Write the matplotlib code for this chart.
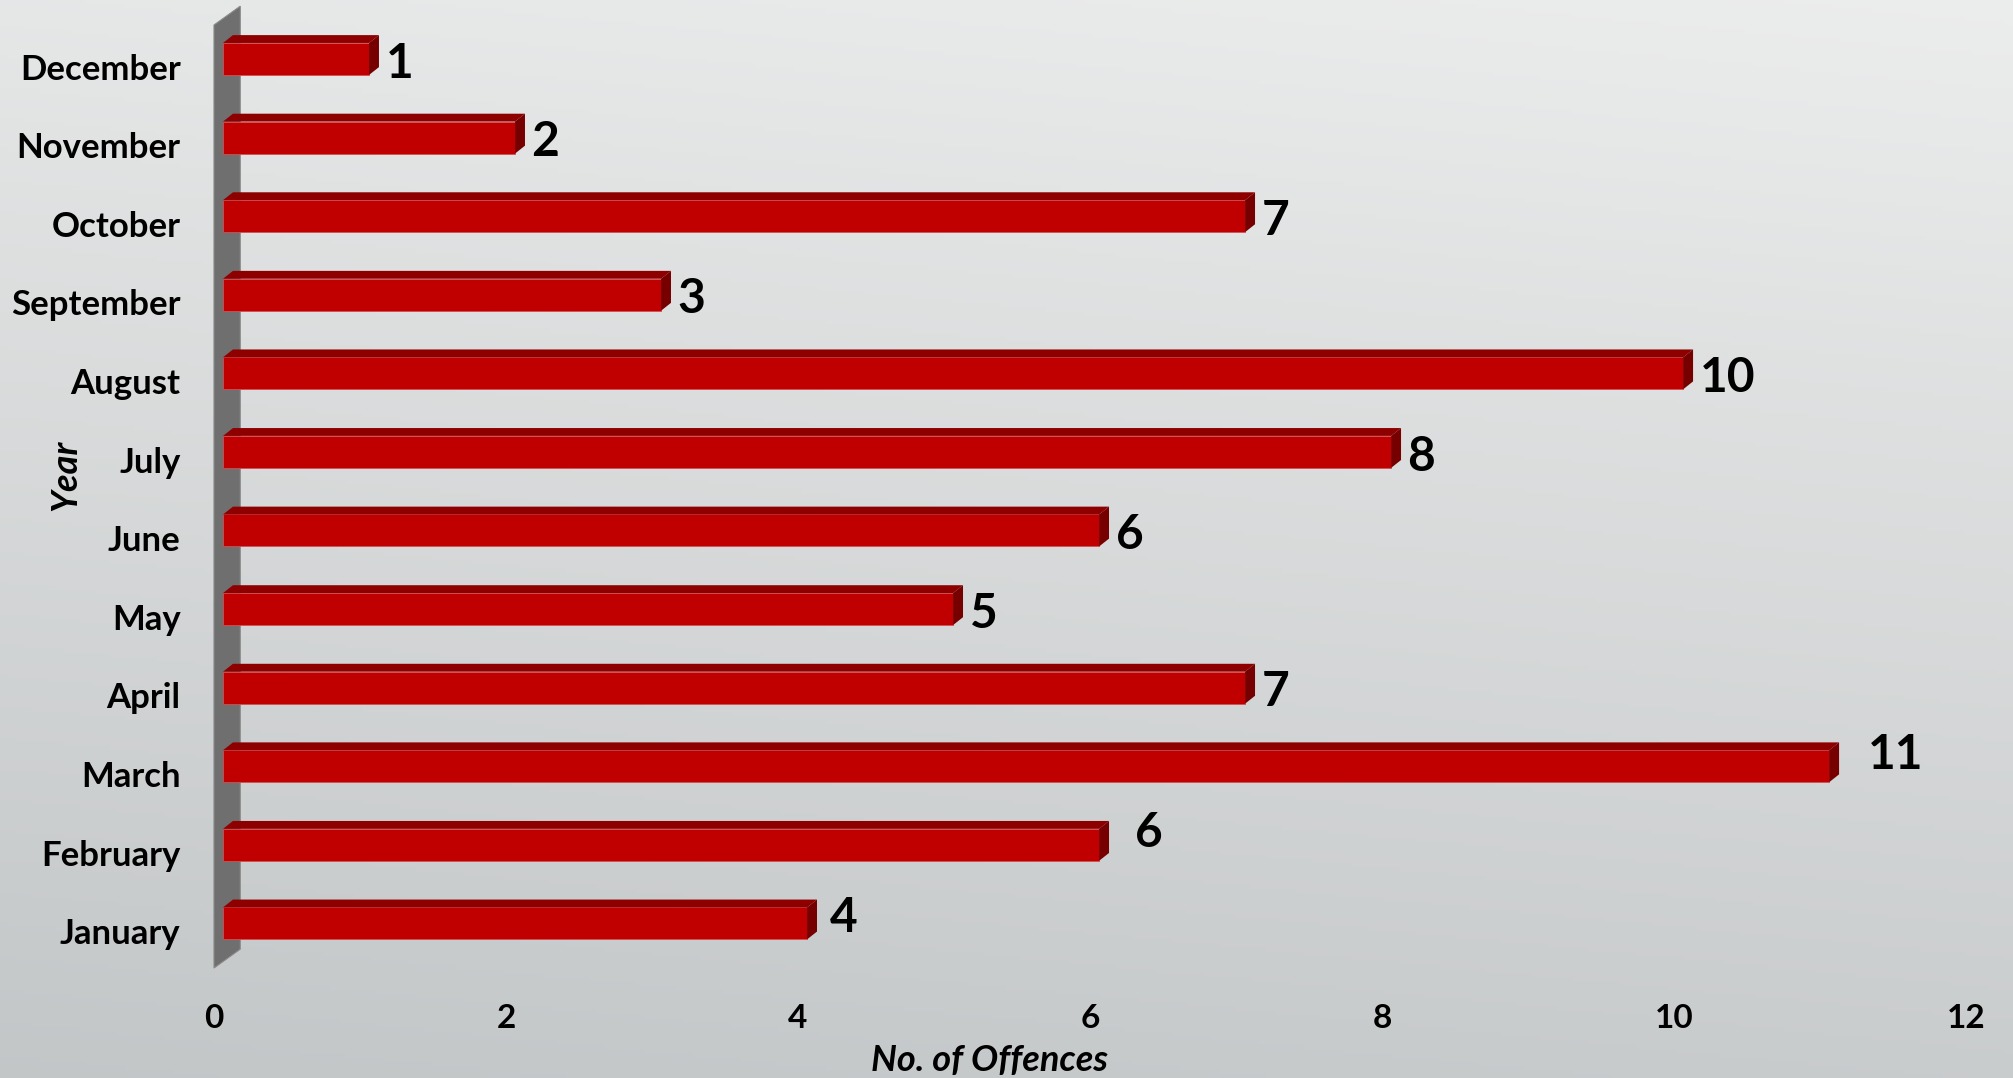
import numpy as np
import matplotlib
matplotlib.use("Agg")
import matplotlib.pyplot as plt
from matplotlib.patches import Polygon

# data (bottom to top)
months = ["January", "February", "March", "April", "May", "June",
          "July", "August", "September", "October", "November", "December"]
offences = [4, 6, 11, 7, 5, 6, 8, 10, 3, 7, 2, 1]
xticks = [0, 2, 4, 6, 8, 10, 12]

plt.rcParams['font.family'] = ['Lato', 'DejaVu Sans']

fig = plt.figure(figsize=(20.13, 10.78), dpi=100)

# background gradient
bg = fig.add_axes([0, 0, 1, 1], zorder=-10)
yy = np.linspace(0, 1, 256)[:, None]
xx = np.linspace(0, 1, 256)[None, :]
top = np.array([0.925, 0.928, 0.928])
bot = np.array([0.765, 0.778, 0.783])
t = np.clip(yy * 0.85 + xx * 0.15, 0, 1)[..., None]
img = bot * (1 - t) + top * t
bg.imshow(img, origin='lower', aspect='auto', extent=[0, 1, 0, 1])
bg.axis('off')

ax = fig.add_axes([0.1063, 0.1020, 0.8704, 0.8748])
ax.patch.set_alpha(0)
ax.set_xlim(0, 12)
ax.set_ylim(-0.5, 11.5)

# side wall
wdx, wdy = 0.18, 0.24
wall = Polygon([(0, -0.5), (0, 11.5), (wdx, 11.5 + wdy), (wdx, -0.5 + wdy)],
               closed=True, facecolor='#6f6f6f', edgecolor='#8a8a8a', lw=0.8,
               clip_on=False, zorder=1)
ax.add_patch(wall)

# 3d-ish bars
x0 = 0.062
dx, dy = 0.068, 0.10
h = 0.407
yc = np.arange(len(months)) + 0.068
front = ax.barh(yc, offences, left=x0, height=h, color='#c00000',
                edgecolor='#d45050', linewidth=0.6, zorder=3)
for y, v in zip(yc, offences):
    x1 = x0 + v
    yt, yb = y + h / 2, y - h / 2
    ax.add_patch(Polygon([(x0, yt), (x0 + dx, yt + dy), (x1 + dx, yt + dy), (x1, yt)],
                         closed=True, facecolor='#8e0000', edgecolor='none', zorder=3))
    ax.add_patch(Polygon([(x1, yb), (x1, yt), (x1 + dx, yt + dy), (x1 + dx, yb + dy)],
                         closed=True, facecolor='#760000', edgecolor='none', zorder=3))

# value labels (a few are nudged as in the original)
nudge = {"March": (0.2, 0.14), "February": (0.18, 0.15), "January": (0.09, 0.07)}
for m, y, v in zip(months, yc, offences):
    ox, oy = nudge.get(m, (0.045, -0.06))
    ax.text(v + x0 + dx + ox, y + oy, str(v), ha='left', va='center',
            fontsize=34.5, fontweight='bold', color='black', zorder=4)

ax.set_yticks(np.arange(len(months)) - 0.03)
ax.set_yticklabels(months, fontsize=25, fontweight='bold')
ax.set_xticks(xticks)
ax.set_xticklabels([str(v) for v in xticks], fontsize=24, fontweight='bold')
ax.tick_params(axis='y', length=0, pad=24)
ax.tick_params(axis='x', length=0, pad=26)
for s in ax.spines.values():
    s.set_visible(False)

fig.text(0.0328, 0.5594, "Year", rotation=90, ha='center', va='center',
         fontsize=26, fontweight='bold', fontstyle='italic')
fig.text(0.4918, 0.0160, "No. of Offences", ha='center', va='center',
         fontsize=26, fontweight='bold', fontstyle='italic')

fig.savefig("out.png", dpi=100)
